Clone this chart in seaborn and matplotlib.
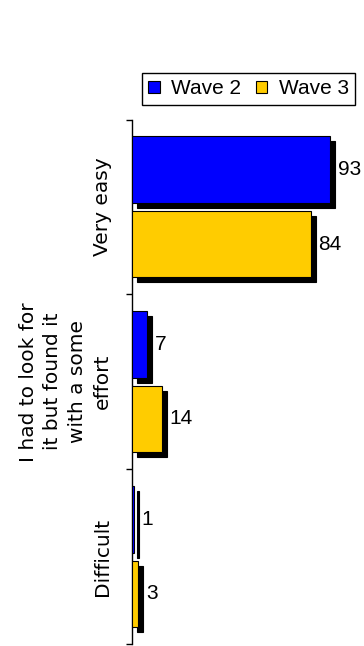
import matplotlib
matplotlib.use("Agg")
import matplotlib.pyplot as plt
import matplotlib.transforms as mtransforms
from matplotlib.patches import Rectangle
import pandas as pd
import seaborn as sns

# Survey answers and percentages per wave
categories = ["Very easy",
              "I had to look for\nit but found it\nwith a some\neffort",
              "Difficult"]
waves = ["Wave 2", "Wave 3"]
wave2_values = [93, 7, 1]
wave3_values = [84, 14, 3]
wave_colors = ["#0000FF", "#FFCC00"]

df = pd.DataFrame({
    "category": categories * 2,
    "wave": [waves[0]] * len(categories) + [waves[1]] * len(categories),
    "value": wave2_values + wave3_values,
})

sns.set_theme(style="white")
plt.rcParams["font.family"] = ["DejaVu Sans"]
plt.rcParams["text.color"] = "black"
plt.rcParams["ytick.color"] = "black"

fig = plt.figure(figsize=(3.64, 6.46), dpi=100)
ax = fig.add_axes([132 / 364, 2 / 646, 213 / 364, (644 - 119.5) / 646])

sns.barplot(data=df, y="category", x="value", hue="wave", order=categories,
            hue_order=waves, palette=wave_colors, orient="h", width=0.852,
            gap=0.108, edgecolor="black", linewidth=0.8, ax=ax,
            saturation=1, zorder=3)

# Drop shadows: copies of each bar shifted right and down
shadow_tf = mtransforms.offset_copy(ax.transData, fig=fig, x=5, y=-5, units="dots")
for container in ax.containers:
    for bar in container:
        shadow = Rectangle(bar.get_xy(), bar.get_width(), bar.get_height(),
                           facecolor="black", edgecolor="black", linewidth=0.8,
                           transform=shadow_tf, zorder=2)
        ax.add_patch(shadow)

# Value labels next to each bar
for container, vals in zip(ax.containers, [wave2_values, wave3_values]):
    ax.bar_label(container, labels=[str(v) for v in vals], padding=5.5,
                 fontsize=15, family="Liberation Sans", color="black")

ax.set_xlim(0, 100)
ax.set_ylim(2.5, -0.5)
ax.set_xlabel("")
ax.set_ylabel("")
ax.set_xticks([])
for side in ["top", "right", "bottom"]:
    ax.spines[side].set_visible(False)
ax.spines["left"].set_color("black")
ax.spines["left"].set_linewidth(1.0)

ax.set_yticks(range(len(categories)))
ax.set_yticklabels(categories, rotation=90, va="center", ha="right",
                   multialignment="center", fontsize=14.5, color="black",
                   linespacing=1.38)
ax.set_yticks([-0.5, 0.5, 1.5, 2.5], minor=True)
ax.tick_params(axis="y", which="major", length=0, pad=14.5)
ax.tick_params(axis="y", which="minor", length=4.3, width=1.0,
               direction="out", color="black", left=True)

# Legend across the top
handles, labels = ax.get_legend_handles_labels()
ax.legend_.remove()
leg = fig.legend(handles, labels, loc="upper right",
                 bbox_to_anchor=(355 / 364, 1 - 73 / 646),
                 bbox_transform=fig.transFigure, ncol=2, frameon=True,
                 fancybox=False, edgecolor="black", framealpha=1,
                 borderaxespad=0, borderpad=0.3, handlelength=0.55,
                 handleheight=0.55, handletextpad=0.55, columnspacing=0.7,
                 labelcolor="black",
                 prop={"family": "Liberation Sans", "size": 15})
leg.get_frame().set_linewidth(1.0)

fig.savefig("out.png", dpi=100)
